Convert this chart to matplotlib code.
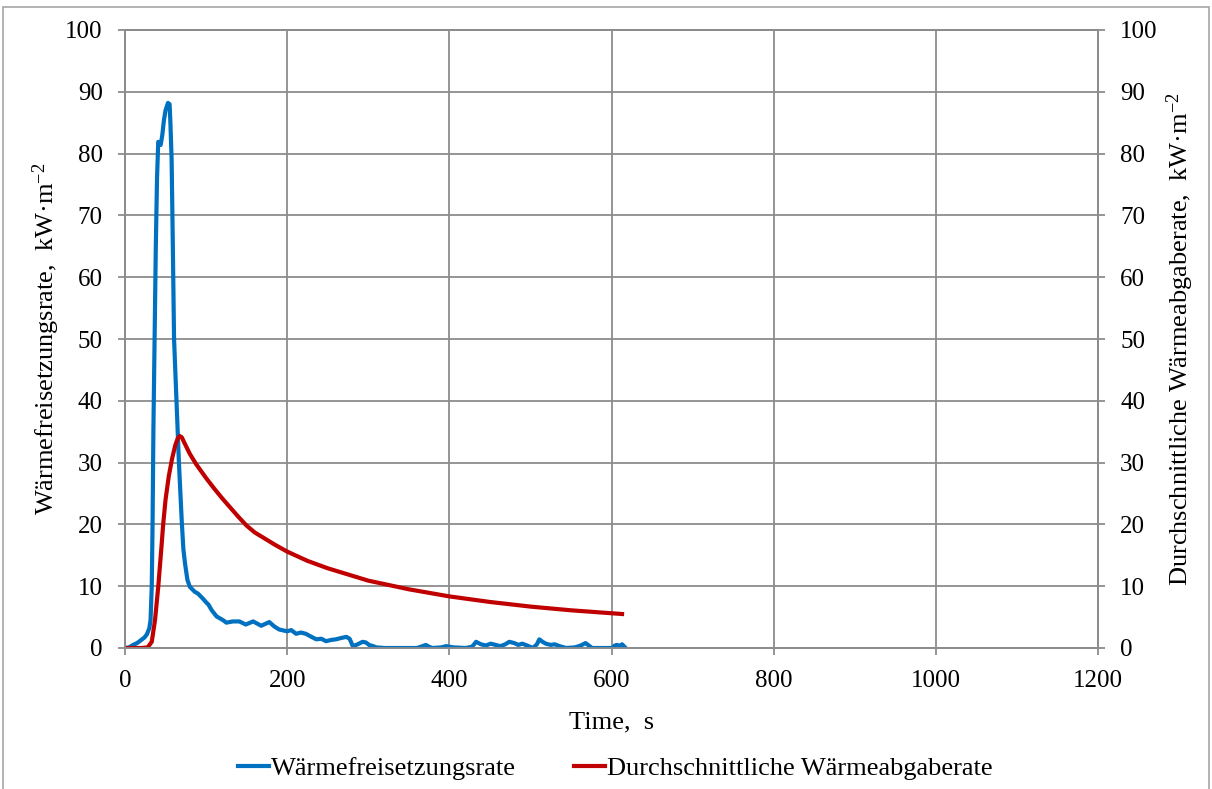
import matplotlib
matplotlib.use('Agg')
import matplotlib.pyplot as plt
from matplotlib.patches import Rectangle

# ─── Daten ───────────────────────────────────────────────────────────────────

t_hrr = [0, 5, 10, 15, 20, 24, 27, 30, 31.5, 33, 34, 35, 36.5, 38, 39.5, 40.5,
         41, 43, 44, 46, 48, 50, 53, 55, 56, 57.5, 59, 60.5, 63.5, 66.5, 70,
         72, 74, 77, 80, 86, 90, 96, 100, 103, 107, 113, 121, 125, 133, 141,
         149, 158, 168, 178, 184, 190, 200, 205, 211, 217, 223, 230, 236, 242,
         248, 254, 260, 266, 273, 277, 281, 287, 293, 297, 301, 306, 310, 320,
         340, 360, 367, 371, 375, 379, 390, 396, 405, 420, 428, 433, 439, 445,
         451, 457, 463, 469, 474, 480, 485, 490, 496, 503, 508, 511, 515, 519,
         525, 530, 536, 544, 555, 562, 568, 572, 576, 590, 601, 604, 607, 611,
         613, 616]
hrr = [0, 0.1, 0.5, 0.8, 1.3, 1.7, 2.2, 3.2, 4.5, 10, 20, 35, 50, 65, 76, 80,
       81.9, 81.6, 81.4, 83, 85.4, 87, 88.2, 88, 85, 79, 65, 50, 40, 30, 20.5,
       16, 13.7, 11, 9.9, 9.1, 8.8, 8.0, 7.4, 7.0, 6.1, 5.1, 4.5, 4.1, 4.3, 4.3,
       3.8, 4.3, 3.6, 4.2, 3.5, 3.0, 2.7, 2.9, 2.3, 2.5, 2.3, 1.8, 1.4, 1.5,
       1.1, 1.3, 1.4, 1.6, 1.8, 1.5, 0.3, 0.6, 1.0, 0.9, 0.5, 0.3, 0.1, 0,
       0, 0, 0.3, 0.5, 0.2, 0, 0.1, 0.3, 0.1, 0, 0.2, 1.0, 0.6, 0.4,
       0.7, 0.5, 0.3, 0.6, 1.0, 0.8, 0.5, 0.7, 0.4, 0, 0.6, 1.4, 1.0, 0.7,
       0.5, 0.6, 0.3, 0, 0.1, 0.4, 0.8, 0.4, 0, 0, 0, 0.4, 0.5, 0.3,
       0.6, 0.2]

t_avg = [0, 20, 28, 33, 37, 41, 45, 47, 50, 54, 58, 62, 65, 67.5, 70, 74, 80,
         88, 100, 110, 120, 130, 140, 150, 160, 170, 185, 200, 225, 250, 275,
         300, 350, 400, 450, 500, 550, 613]
avg = [0, 0, 0.1, 1.0, 4.5, 9.9, 16.4, 19.9, 24.0, 27.8, 30.6, 32.8, 33.9,
       34.3, 34.1, 33.0, 31.4, 29.7, 27.5, 25.8, 24.2, 22.7, 21.2, 19.8, 18.7,
       17.9, 16.7, 15.6, 14.1, 12.9, 11.9, 10.9, 9.5, 8.35, 7.45, 6.7, 6.1, 5.5]

BLUE = '#0070C0'
RED = '#C00000'
GRID = '#8c8c8c'

plt.rcParams['font.family'] = ['Liberation Serif', 'DejaVu Serif']
plt.rcParams['font.size'] = 18
plt.rcParams['mathtext.fontset'] = 'custom'
plt.rcParams['mathtext.rm'] = 'Liberation Serif'
plt.rcParams['mathtext.default'] = 'regular'

fig = plt.figure(figsize=(12.12, 7.89), dpi=100)
ax = fig.add_axes([125 / 1212, 1 - 648 / 789, (1098 - 125) / 1212, (648 - 30) / 789])

ax.plot(t_hrr, hrr, color=BLUE, lw=3, label='Wärmefreisetzungsrate', zorder=3)
ax.plot(t_avg, avg, color=RED, lw=3, label='Durchschnittliche Wärmeabgaberate', zorder=3)

ax.set_xlim(0, 1200)
ax.set_ylim(0, 100)
ax.set_xticks(range(0, 1201, 200))
ax.set_yticks(range(0, 101, 10))
ax.grid(True, color=GRID, lw=1.3)
ax.set_axisbelow(True)
for s in ax.spines.values():
    s.set_color(GRID)
    s.set_linewidth(1.3)
ax.tick_params(direction='out', length=5, width=1.3, color=GRID, labelsize=18)
ax.tick_params(axis='y', pad=11)
ax.tick_params(axis='x', pad=11)

ax.set_xlabel('Time,  s', fontsize=19, labelpad=14)
ax.set_ylabel('Wärmefreisetzungsrate,  kW·m$^{-2}$', fontsize=19, labelpad=2)

ax2 = ax.twinx()
ax2.set_ylim(0, 100)
ax2.set_yticks(range(0, 101, 10))
for s in ax2.spines.values():
    s.set_color(GRID)
    s.set_linewidth(1.3)
ax2.tick_params(direction='out', length=5, width=1.3, color=GRID, labelsize=18, pad=11)
ax2.set_ylabel('Durchschnittliche Wärmeabgaberate,  kW·m$^{-2}$', fontsize=19, labelpad=5)

fig.legend(loc='center', bbox_to_anchor=(615 / 1212, 1 - 768 / 789), ncol=2,
           frameon=False, fontsize=19, handlelength=1.2, handletextpad=0.05,
           columnspacing=2.2)

# äußerer Rahmen
fig.patches.append(Rectangle((3 / 1212, -0.01), 1206 / 1212, 1 - 7 / 789 + 0.01,
                             transform=fig.transFigure, fill=False,
                             edgecolor='#a6a6a6', lw=1.2))

fig.savefig('out.png', dpi=100, facecolor='white')
